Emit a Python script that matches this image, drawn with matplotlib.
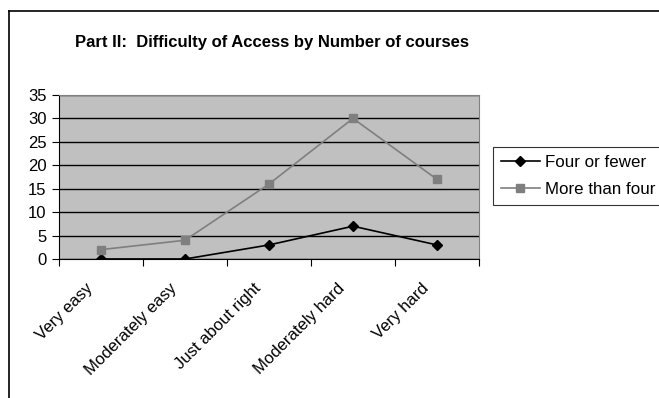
import matplotlib.pyplot as plt
from matplotlib.lines import Line2D
from matplotlib.transforms import ScaledTranslation

# data
categories = ['Very easy', 'Moderately easy', 'Just about right', 'Moderately hard', 'Very hard']
four_or_fewer = [0, 0, 3, 7, 3]
more_than_four = [2, 4, 16, 30, 17]

plt.rcParams['font.family'] = ['Liberation Sans', 'DejaVu Sans']

fig = plt.figure(figsize=(6.59, 3.98), dpi=100)
W, H = 659, 398

# outer chart frame (cut off at right and bottom)
fig.add_artist(Line2D([8.5 / W, 8.5 / W], [0, 1 - 10.5 / H], transform=fig.transFigure, color='black', lw=1.2))
fig.add_artist(Line2D([8.5 / W, 1], [1 - 10.5 / H, 1 - 10.5 / H], transform=fig.transFigure, color='black', lw=1.2))

ax = fig.add_axes([59 / W, 1 - 259 / H, 420 / W, 164 / H])
ax.set_facecolor('#c0c0c0')

x = range(len(categories))
ax.plot(x, four_or_fewer, color='black', marker='D', markersize=5, lw=1.2, label='Four or fewer')
ax.plot(x, more_than_four, color='#7f7f7f', marker='s', markersize=6, lw=1.2, label='More than four')

ax.set_xlim(-0.5, len(categories) - 0.5)
ax.set_ylim(0, 35)
ax.set_yticks(range(0, 36, 5))
ax.yaxis.grid(True, color='black', lw=1)
ax.set_axisbelow(True)

# ticks sit between categories, labels drawn as rotated text below each category
ax.set_xticks([i - 0.5 for i in range(len(categories) + 1)])
ax.set_xticklabels([])
ax.tick_params(axis='x', direction='out', length=5, color='black')
ax.tick_params(axis='y', direction='out', length=5, labelsize=12, pad=4)

shift = ScaledTranslation(-16 / 100, -22 / 100, fig.dpi_scale_trans)
for i, name in enumerate(categories):
    ax.text(i, 0, name, transform=ax.get_xaxis_transform() + shift, rotation=45,
            ha='right', va='top', rotation_mode='anchor', fontsize=12)

for side in ['top', 'right']:
    ax.spines[side].set_color('#808080')
ax.spines['left'].set_color('black')
ax.spines['bottom'].set_color('black')

fig.text(272 / W, 1 - 42 / H, 'Part II:  Difficulty of Access by Number of courses',
         ha='center', va='center', fontsize=12, fontweight='bold')

leg = ax.legend(loc='upper left', bbox_to_anchor=(493 / W, 1 - 147 / H), bbox_transform=fig.transFigure,
                frameon=True, fancybox=False, edgecolor='black', fontsize=12.2, handlelength=2.3,
                borderpad=0.45, labelspacing=0.75, handletextpad=0.3, borderaxespad=0)
leg.get_frame().set_linewidth(0.8)

fig.savefig('out.png', dpi=100)
